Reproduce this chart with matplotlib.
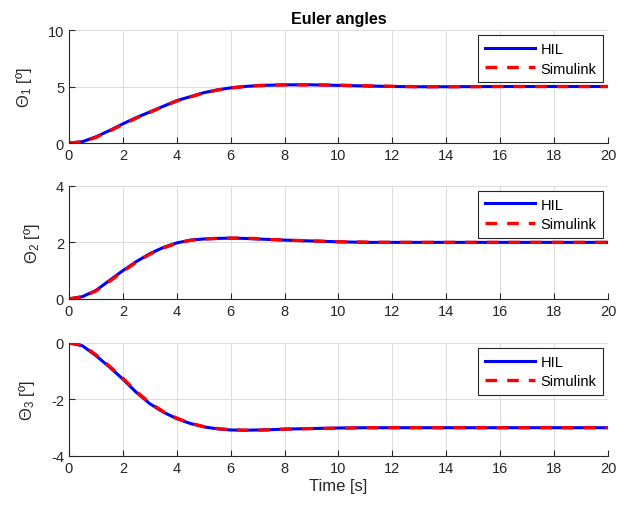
import numpy as np
import matplotlib.pyplot as plt

plt.rcParams['font.family'] = ['Liberation Sans', 'DejaVu Sans']
plt.rcParams['mathtext.fontset'] = 'custom'
plt.rcParams['mathtext.rm'] = 'Liberation Sans'
plt.rcParams['mathtext.it'] = 'Liberation Sans'
plt.rcParams['axes.unicode_minus'] = False

# time samples [s]
t = [0, 0.5, 1, 1.5, 2, 2.5, 3, 3.5, 4, 4.5, 5, 5.5, 6, 6.5, 7, 7.5, 8, 9, 10, 11, 12, 13, 14, 16, 18, 20]

# Euler angles, HIL
th1_hil = [0, 0.12, 0.55, 1.1, 1.7, 2.25, 2.75, 3.25, 3.75, 4.1, 4.45, 4.7, 4.88, 5.0, 5.08, 5.12, 5.15, 5.15, 5.1, 5.05, 5.0, 4.98, 4.98, 5.0, 5.0, 5.0]
th2_hil = [0, 0.08, 0.3, 0.65, 1.0, 1.32, 1.6, 1.82, 1.98, 2.08, 2.12, 2.14, 2.15, 2.14, 2.12, 2.1, 2.08, 2.05, 2.02, 2.0, 2.0, 2.0, 2.0, 2.0, 2.0, 2.0]
th3_hil = [0, -0.1, -0.45, -0.85, -1.28, -1.75, -2.15, -2.45, -2.68, -2.85, -2.97, -3.04, -3.08, -3.09, -3.08, -3.07, -3.05, -3.03, -3.01, -3.0, -3.0, -3.0, -3.0, -3.0, -3.0, -3.0]

# Euler angles, Simulink
th1_sim = [0, 0.1, 0.5, 1.05, 1.65, 2.2, 2.72, 3.22, 3.72, 4.08, 4.43, 4.68, 4.87, 4.99, 5.08, 5.12, 5.14, 5.15, 5.12, 5.06, 5.02, 4.98, 4.98, 5.0, 5.0, 5.0]
th2_sim = [0, 0.07, 0.28, 0.62, 0.97, 1.3, 1.58, 1.8, 1.97, 2.07, 2.12, 2.14, 2.15, 2.15, 2.13, 2.1, 2.08, 2.05, 2.02, 2.01, 2.0, 2.0, 2.0, 2.0, 2.0, 2.0]
th3_sim = [0, -0.08, -0.42, -0.82, -1.25, -1.72, -2.12, -2.43, -2.66, -2.84, -2.96, -3.03, -3.07, -3.09, -3.09, -3.07, -3.05, -3.03, -3.02, -3.0, -3.0, -3.0, -3.0, -3.0, -3.0, -3.0]

ylabels = [r'$\Theta_1$ [º]', r'$\Theta_2$ [º]', r'$\Theta_3$ [º]']
ylims = [(0, 10), (0, 4), (-4, 0)]
yticks = [[0, 5, 10], [0, 2, 4], [-4, -2, 0]]
hil = [th1_hil, th2_hil, th3_hil]
sim = [th1_sim, th2_sim, th3_sim]

fig = plt.figure(figsize=(6.3, 5.1), dpi=100, facecolor='white')
bottoms = [0.7176, 0.412, 0.104]
tc = '#262626'
for i in range(3):
    ax = fig.add_axes([0.1095, bottoms[i], 0.8555, 0.2216])
    ax.plot(t, hil[i], color='blue', lw=2.2, label='HIL')
    ax.plot(t, sim[i], color='red', lw=2.4, ls=(0, (3.5, 3)), label='Simulink')
    ax.set_xlim(0, 20)
    ax.set_ylim(*ylims[i])
    ax.set_xticks(range(0, 21, 2))
    ax.set_yticks(yticks[i])
    ax.grid(True, color='#dcdcdc', lw=0.7)
    ax.set_axisbelow(True)
    for s in ['top', 'right']:
        ax.spines[s].set_visible(False)
    for s in ['left', 'bottom']:
        ax.spines[s].set_color(tc)
        ax.spines[s].set_linewidth(0.8)
    ax.tick_params(direction='in', length=4, width=0.8, colors=tc, labelsize=10.5)
    ax.set_ylabel(ylabels[i], fontsize=12, color=tc, labelpad=10)
    leg = ax.legend(loc='upper right', fontsize=10.5, fancybox=False, framealpha=1,
                    edgecolor=tc, handlelength=3.4, borderaxespad=0.35,
                    borderpad=0.45, labelspacing=0.4, handletextpad=0.4)
    leg.get_frame().set_linewidth(0.8)
    if i == 0:
        ax.set_title('Euler angles', fontsize=11.5, fontweight='bold', pad=5)
    if i == 2:
        ax.set_xlabel('Time [s]', fontsize=12, color=tc, labelpad=2)

fig.savefig('out.png', dpi=100)
